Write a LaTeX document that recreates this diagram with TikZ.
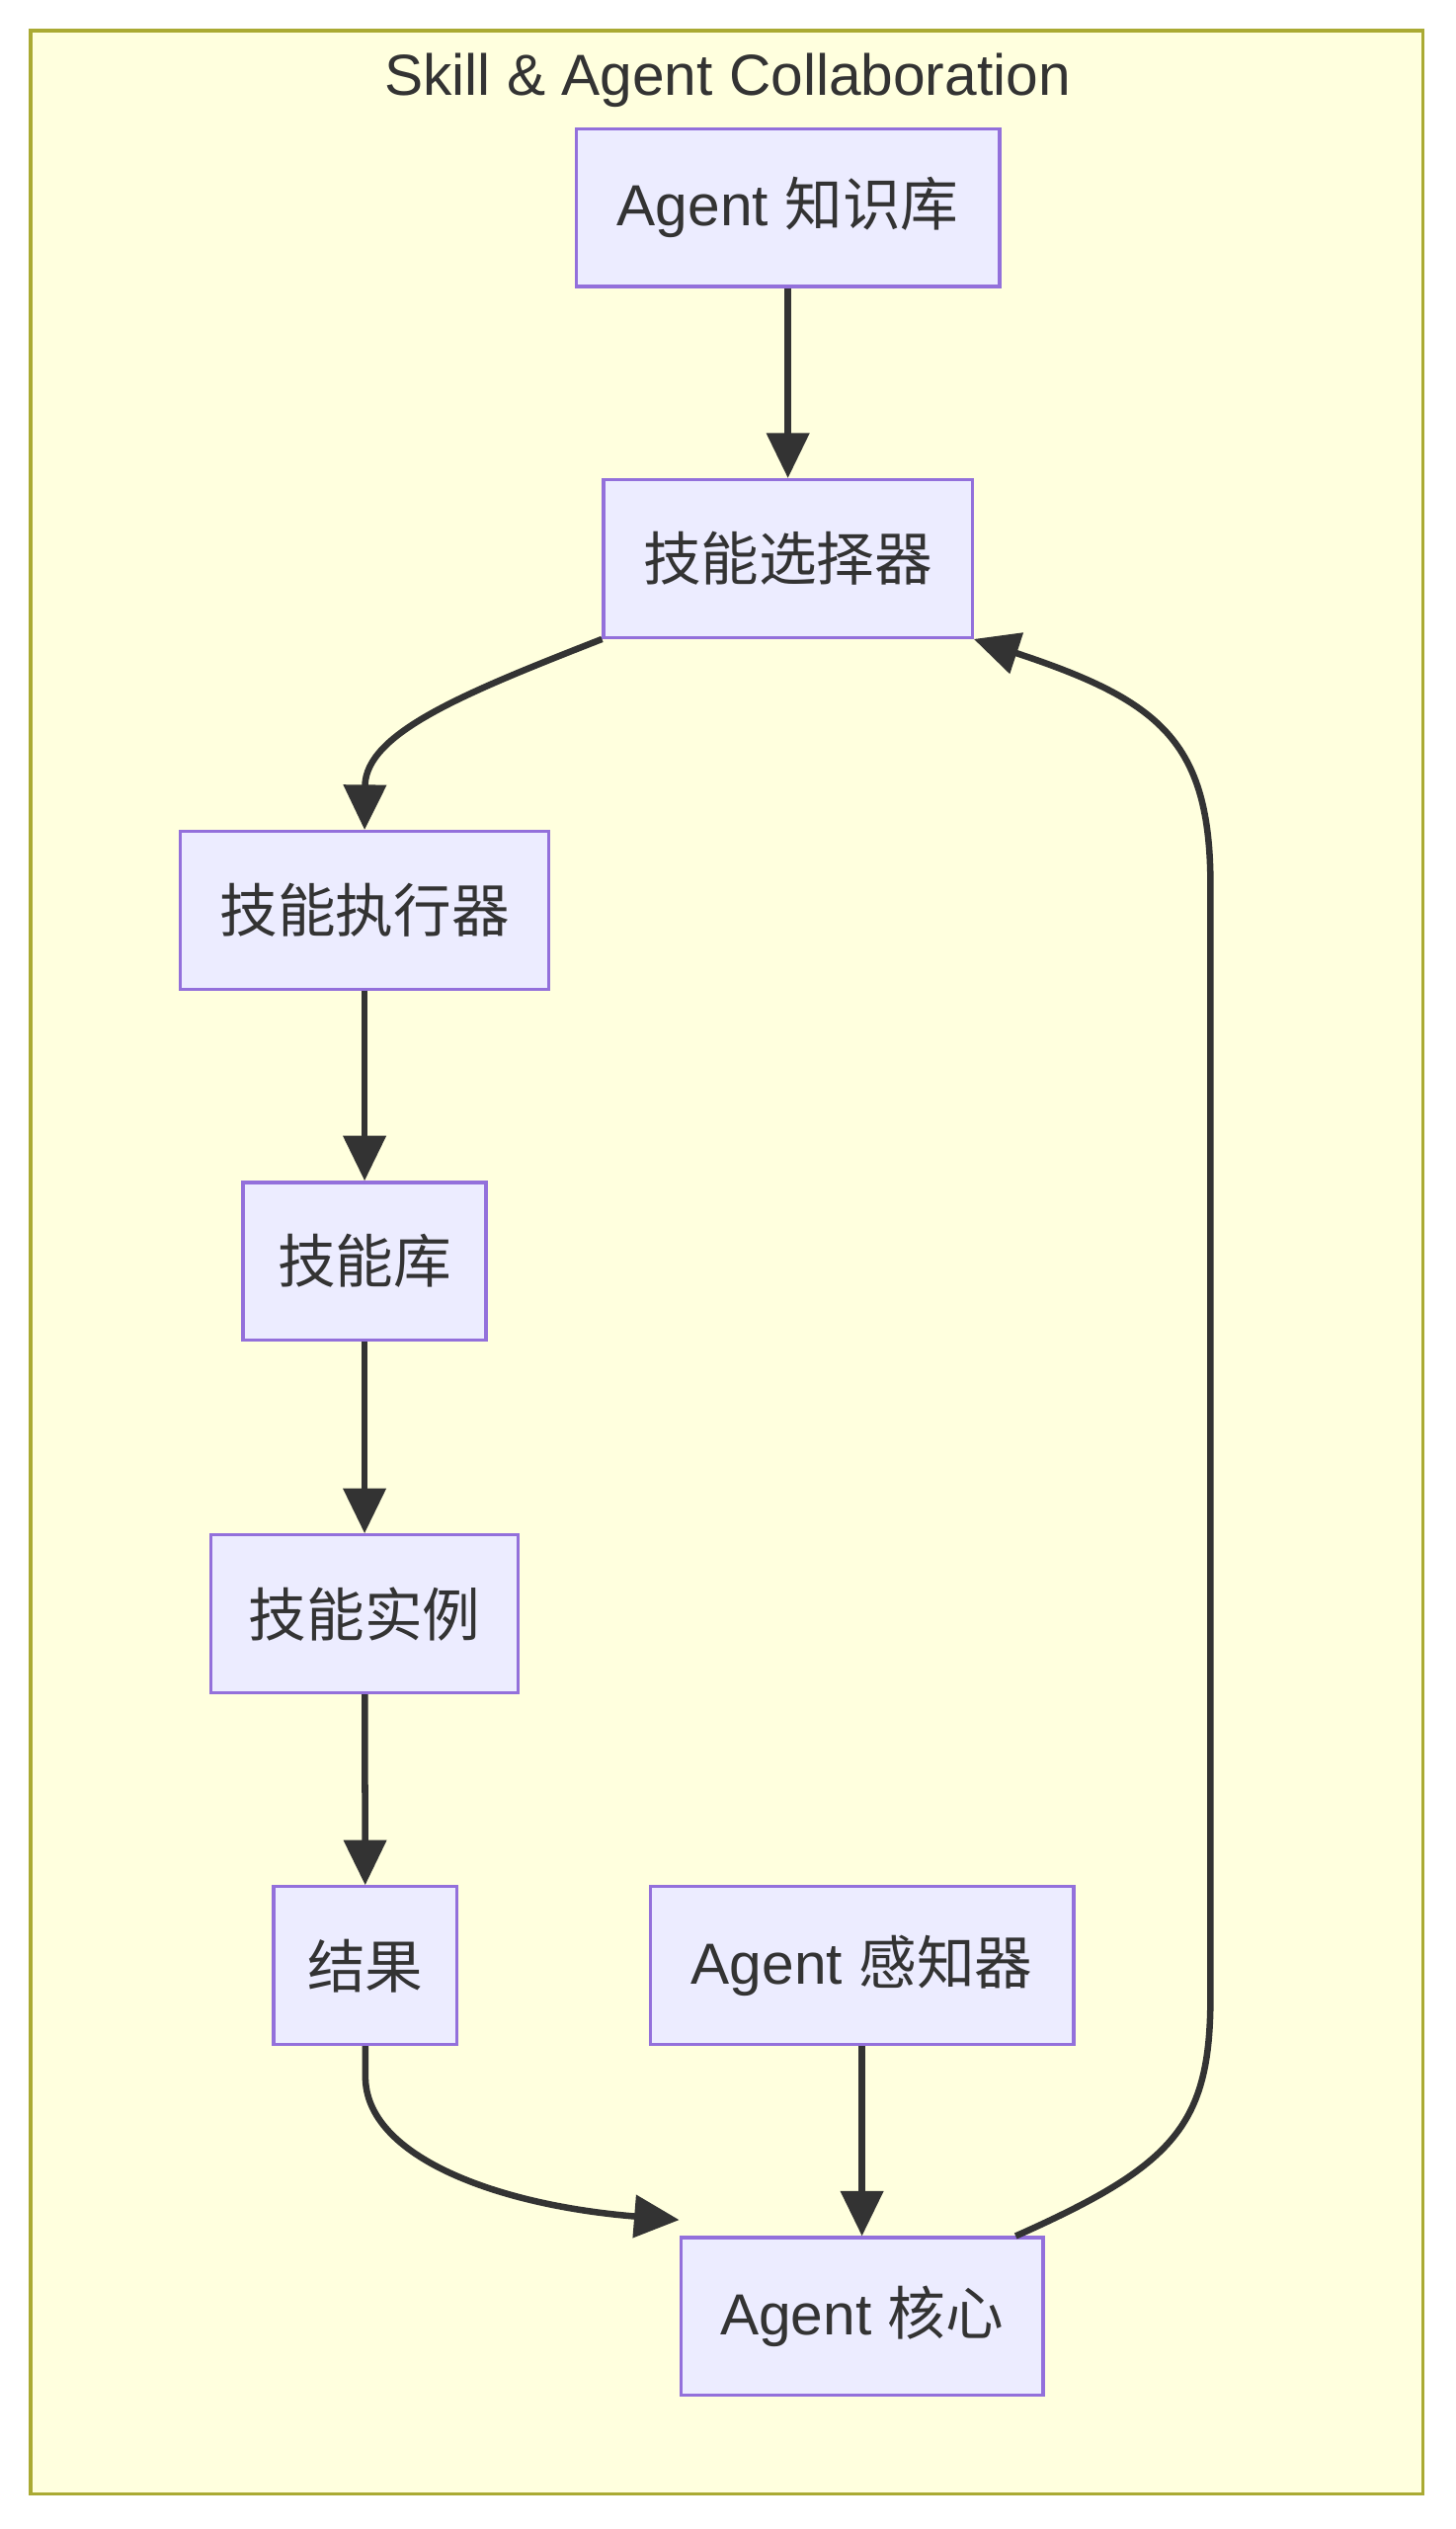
\documentclass[tikz,border=0pt]{standalone}
\usepackage{fontspec}
\setmainfont{Liberation Sans}
\newfontfamily\cjk{Noto Sans CJK SC}
\usetikzlibrary{arrows.meta}
\definecolor{nodefill}{HTML}{ECECFF}
\definecolor{nodeline}{HTML}{9370DB}
\definecolor{bgfill}{HTML}{FFFFDE}
\definecolor{bgline}{HTML}{AAAA33}
\definecolor{txt}{HTML}{333333}
\tikzset{
  box/.style={draw=nodeline, fill=nodefill, line width=2pt, minimum height=98pt, inner sep=0pt, text=txt, font=\fontsize{36}{40}\selectfont},
  conn/.style={draw=txt, line width=4pt, -{Triangle[length=28pt,width=26pt]}}
}
\begin{document}
\begin{tikzpicture}[x=1pt,y=-1pt]
\useasboundingbox (0,0) rectangle (904,1571);
\draw[fill=bgfill, draw=bgline, line width=2pt] (19,19) rectangle (884,1549);
\node[text=txt, font=\fontsize{36}{40}\selectfont] (title) at (452,50) {Skill \& Agent Collaboration};
\node[box, minimum width=263pt] (kb) at (489.5,129) {Agent {\cjk 知识库}};
\node[box, minimum width=229pt] (sel) at (489.5,347) {\cjk 技能选择器};
\node[box, minimum width=229pt] (exe) at (226.5,565.5) {\cjk 技能执行器};
\node[box, minimum width=151pt] (lib) at (226.5,783.5) {\cjk 技能库};
\node[box, minimum width=191pt] (inst) at (226.5,1002.5) {\cjk 技能实例};
\node[box, minimum width=114pt] (res) at (227,1221) {\cjk 结果};
\node[box, minimum width=263pt] (per) at (535.5,1221) {Agent {\cjk 感知器}};
\node[box, minimum width=225pt] (core) at (535.5,1439) {Agent {\cjk 核心}};
\draw[conn] (kb) -- (sel);
\draw[conn] (sel.south west) .. controls (290,430) and (227,455) .. (exe.north);
\draw[conn] (exe) -- (lib);
\draw[conn] (lib) -- (inst);
\draw[conn] (inst) -- (res);
\draw[conn] (per) -- (core);
\draw[conn] (res.south) -- (227,1290) .. controls (227,1340) and (310,1370) .. ([yshift=10pt]core.north west);
\coordinate (c1) at (752,1240);
\coordinate (c2) at (752,550);
\draw[conn] ([xshift=-18pt]core.north east) .. controls (730,1345) and (752,1320) .. (c1) -- (c2) .. controls (752,460) and (720,435) .. (sel.south east);
\end{tikzpicture}
\end{document}
